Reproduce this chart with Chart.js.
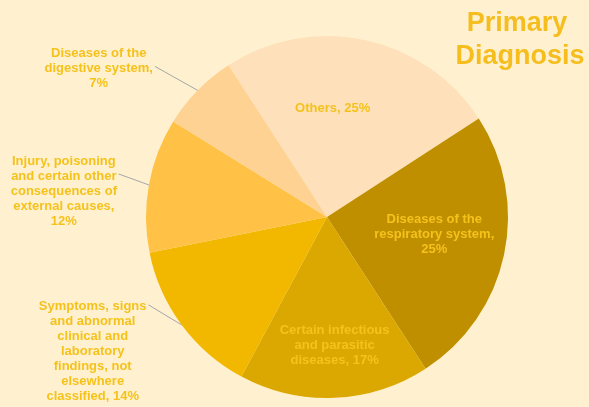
<!DOCTYPE html>
<html>
<head>
<meta charset="utf-8">
<script src="https://cdn.jsdelivr.net/npm/chart.js@4"></script>
<style>
    html, body { margin: 0; padding: 0; background: #FFF1D0; }
    #chart { display: block; }
</style>
</head>
<body>
<canvas id="chart" width="589" height="407"></canvas>
<script>
// data, in drawing order (clockwise from the top-left)
const categories = [
    "Others",
    "Diseases of the respiratory system",
    "Certain infectious and parasitic diseases",
    "Symptoms, signs and abnormal clinical and laboratory findings, not elsewhere classified",
    "Injury, poisoning and certain other consequences of external causes",
    "Diseases of the digestive system"
];
const shares = [25, 25, 17, 14, 12, 7];
const labelLines = [
    ["Others, 25%"],
    ["Diseases of the", "respiratory system,", "25%"],
    ["Certain infectious", "and parasitic", "diseases, 17%"],
    ["Symptoms, signs", "and abnormal", "clinical and", "laboratory", "findings, not", "elsewhere", "classified, 14%"],
    ["Injury, poisoning", "and certain other", "consequences of", "external causes,", "12%"],
    ["Diseases of the", "digestive system,", "7%"]
];

const sliceColors = ["#FEE1BA", "#BF8F00", "#DBA802", "#F2B800", "#FFC247", "#FDD292"];
const labelColor = "#F5C21C";
const font = "bold 13px 'Liberation Sans', Arial, sans-serif";
const lineHeight = 15;

// label placement: inside ones by radius fraction, outside ones by offset from the edge point
const placement = [
    { inside: true, r: 0.6, turn: -9 },
    { inside: true, r: 0.6, turn: -3 },
    { inside: true, r: 0.71, turn: -1 },
    { inside: false, dx: -89, dy: 27, lineRow: 0 },
    { inside: false, dx: -85, dy: 6, lineRow: 1 },
    { inside: false, dx: -99, dy: -22, lineRow: 1 }
];

const pieLabels = {
    id: "pieLabels",
    afterDatasetsDraw(chart) {
        const ctx = chart.ctx;
        const meta = chart.getDatasetMeta(0);
        ctx.save();
        ctx.font = font;
        ctx.fillStyle = labelColor;
        ctx.textAlign = "center";
        ctx.textBaseline = "middle";
        meta.data.forEach((arc, i) => {
            const p = placement[i];
            const lines = labelLines[i];
            const mid = (arc.startAngle + arc.endAngle) / 2;
            let cx, cy;
            if (p.inside) {
                const a = mid + p.turn * Math.PI / 180;
                cx = arc.x + Math.cos(a) * arc.outerRadius * p.r;
                cy = arc.y + Math.sin(a) * arc.outerRadius * p.r;
            } else {
                const ex = arc.x + Math.cos(mid) * arc.outerRadius;
                const ey = arc.y + Math.sin(mid) * arc.outerRadius;
                cx = ex + p.dx;
                cy = ey + p.dy;
                const rowY = cy - (lines.length - 1) * lineHeight / 2 + p.lineRow * lineHeight;
                const rowW = ctx.measureText(lines[p.lineRow]).width;
                ctx.save();
                ctx.strokeStyle = "#A5A5A5";
                ctx.lineWidth = 1;
                ctx.beginPath();
                ctx.moveTo(cx + rowW / 2 + 2, rowY - 2);
                ctx.lineTo(ex, ey);
                ctx.stroke();
                ctx.restore();
            }
            const top = cy - (lines.length - 1) * lineHeight / 2;
            lines.forEach((line, k) => ctx.fillText(line, cx, top + k * lineHeight));
        });
        ctx.restore();
    }
};

const titlePlugin = {
    id: "titleText",
    afterDraw(chart) {
        const ctx = chart.ctx;
        ctx.save();
        ctx.font = "bold 27px 'Liberation Sans', Arial, sans-serif";
        ctx.fillStyle = "#F5BE1E";
        ctx.textAlign = "center";
        ctx.textBaseline = "middle";
        ctx.fillText("Primary", 517, 24);
        ctx.fillText("Diagnosis", 520, 57);
        ctx.restore();
    }
};

new Chart(document.getElementById("chart"), {
    type: "pie",
    data: {
        labels: categories,
        datasets: [
            {
                data: shares,
                backgroundColor: sliceColors,
                borderWidth: 0
            }
        ]
    },
    options: {
        responsive: false,
        animation: false,
        rotation: -33,
        layout: {
            padding: { left: 146, right: 81, top: 36, bottom: 9 }
        },
        plugins: {
            legend: { display: false },
            tooltip: { enabled: false }
        }
    },
    plugins: [pieLabels, titlePlugin]
});
</script>
</body>
</html>
